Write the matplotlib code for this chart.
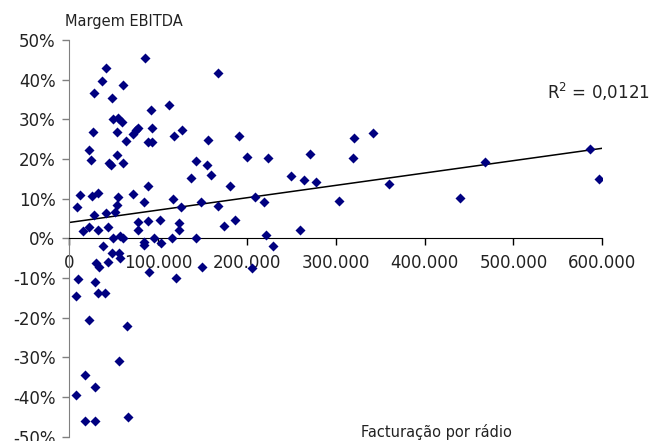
import numpy as np
import matplotlib.pyplot as plt
from matplotlib.ticker import FuncFormatter

plt.rcParams['mathtext.default'] = 'regular'

# facturacao por radio (milhares) e margem EBITDA (%)
facturacao = [
    9.2, 12.0, 22.2, 24.1, 27.0, 25.9, 32.6, 28.1, 37.1, 41.3,
    47.7, 44.7, 47.3, 28.1, 49.5, 53.4, 55.2, 59.3, 60.8, 53.4,
    60.8, 63.5, 41.0, 51.4, 54.0, 55.2, 72.0, 75.1, 77.0, 72.0,
    85.2, 92.0, 88.9, 93.4, 92.8, 88.9, 84.4, 112.6, 117.9, 126.9,
    116.4, 125.2, 136.7, 142.6, 154.7, 156.5, 159.2, 148.3, 167.7, 167.7,
    15.8, 22.2, 32.6, 43.9, 49.5, 57.1, 60.8, 38.3, 47.7, 56.3,
    57.1, 30.6, 33.8, 44.1, 9.5, 7.9, 28.4, 32.3, 40.4, 22.2,
    65.0, 55.9, 18.0, 28.6, 7.9, 18.0, 28.6, 66.4, 77.0, 77.9,
    88.9, 84.1, 84.4, 95.7, 103.2, 102.1, 115.3, 123.5, 123.8, 89.7,
    119.8, 142.4, 149.0, 180.9, 173.6, 187.1, 191.4, 200.0, 223.7, 209.0,
    219.5, 221.1, 229.6, 205.3, 249.9, 264.5, 270.6, 278.0, 260.0, 303.3,
    319.0, 320.5, 342.2, 360.2, 439.8, 468.0, 586.2, 596.6,
]
margem = [
    7.8, 11.0, 22.3, 19.7, 26.7, 10.7, 11.4, 36.6, 39.6, 42.9,
    35.4, 19.0, 18.6, 5.9, 30.1, 26.7, 30.3, 29.4, 38.6, 21.0,
    19.0, 24.5, 6.4, 6.7, 8.4, 10.3, 26.2, 27.3, 27.7, 11.2,
    45.4, 32.3, 24.2, 24.2, 27.7, 13.2, 9.2, 33.6, 25.7, 27.3,
    9.9, 7.9, 15.1, 19.5, 18.6, 24.9, 15.9, 9.2, 41.8, 8.2,
    1.9, 2.8, 2.2, 2.8, 0.0, 0.6, 0.0, -1.9, -3.8, -3.7,
    -5.0, -6.1, -7.2, -6.0, -10.3, -14.6, -10.9, -13.7, -13.7, -20.5,
    -22.0, -30.9, -34.4, -37.4, -39.5, -46.1, -46.1, -45.0, 4.0, 2.2,
    4.4, -0.9, -1.8, 0.0, -1.2, 4.7, 0.0, 3.9, 2.2, -8.6,
    -9.9, 0.0, -7.1, 13.1, 3.2, 4.7, 25.7, 20.6, 20.2, 10.3,
    9.2, 0.9, -2.0, -7.4, 15.8, 14.6, 21.3, 14.1, 2.0, 9.5,
    20.2, 25.2, 26.5, 13.8, 10.2, 19.3, 22.5, 14.9,
]

# linha de tendencia
tend_x = [0, 600000]
tend_y = [4.0, 22.7]
r2_texto = 'R$^{2}$ = 0,0121'

x = np.array(facturacao) * 1000
y = np.array(margem)

fig = plt.figure(figsize=(6.5, 4.41), dpi=100)
ax = fig.add_axes([0.1066, 0.00975, 0.82, 0.8996])

ax.scatter(x, y, marker='D', s=26, color='#000080', linewidths=0, zorder=3)
ax.plot(tend_x, tend_y, color='black', lw=1.1, zorder=2)

ax.set_xlim(0, 600000)
ax.set_ylim(-50, 50)
ax.set_xticks(np.arange(0, 600001, 100000))
ax.set_yticks(np.arange(-50, 51, 10))
ax.xaxis.set_major_formatter(FuncFormatter(lambda v, p: f'{int(v):,}'.replace(',', '.')))
ax.yaxis.set_major_formatter(FuncFormatter(lambda v, p: f'{int(round(v))}%'))

ax.spines['top'].set_visible(False)
ax.spines['right'].set_visible(False)
ax.spines['left'].set_color('#808080')
ax.spines['bottom'].set_position(('data', 0))
ax.spines['bottom'].set_color('black')

ax.tick_params(axis='y', length=5, width=1, color='#808080', labelsize=12, pad=5, labelcolor='#222222')
ax.tick_params(axis='x', length=5, width=1, color='black', labelsize=12, pad=6, labelcolor='#222222')

fig.text(0.19, 0.952, 'Margem EBITDA', fontsize=10.5, ha='center', va='center', color='#222222')
fig.text(0.671, 0.021, 'Facturação por rádio', fontsize=10.5, ha='center', va='center', color='#222222')
fig.text(0.842, 0.792, r2_texto, fontsize=12, ha='left', va='center', color='#222222')

fig.savefig('out.png', dpi=100)
